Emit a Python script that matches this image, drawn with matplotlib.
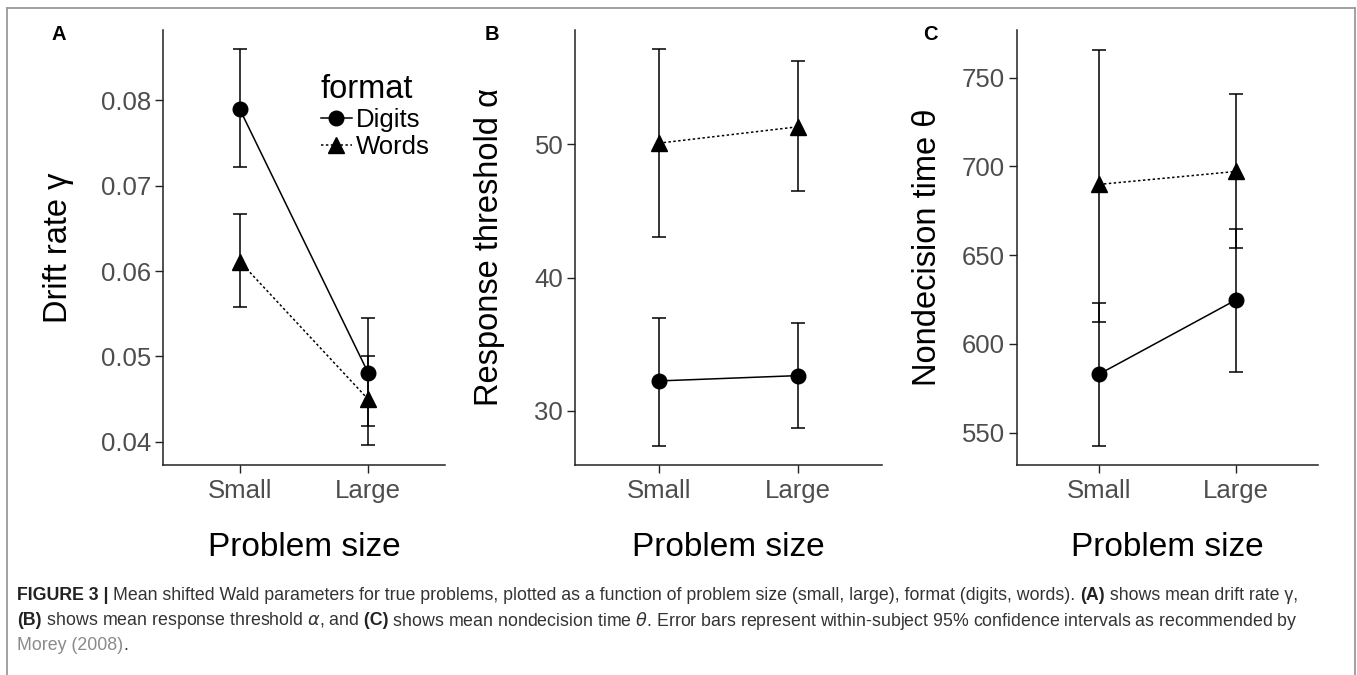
import matplotlib
matplotlib.use("Agg")
import matplotlib.pyplot as plt
from matplotlib.lines import Line2D

plt.rcParams['font.family'] = ['Liberation Sans', 'DejaVu Sans']
plt.rcParams['mathtext.fontset'] = 'dejavusans'

# ---------------- data ----------------
sizes = ["Small", "Large"]

drift_digits = [0.0789, 0.0481]
drift_digits_lo = [0.0722, 0.0419]
drift_digits_hi = [0.0860, 0.0545]
drift_words = [0.0611, 0.0450]
drift_words_lo = [0.0558, 0.0396]
drift_words_hi = [0.0667, 0.0500]

thr_digits = [32.25, 32.65]
thr_digits_lo = [27.4, 28.75]
thr_digits_hi = [37.0, 36.6]
thr_words = [50.07, 51.3]
thr_words_lo = [43.05, 46.5]
thr_words_hi = [57.1, 56.25]

ndt_digits = [583.0, 624.8]
ndt_digits_lo = [542.4, 584.4]
ndt_digits_hi = [622.9, 664.8]
ndt_words = [689.9, 697.2]
ndt_words_lo = [612.3, 654.0]
ndt_words_hi = [765.9, 740.8]

drift_ticks = [0.04, 0.05, 0.06, 0.07, 0.08]
thr_ticks = [30, 40, 50]
ndt_ticks = [550, 600, 650, 700, 750]

W, H = 1357, 675
fig = plt.figure(figsize=(W / 100, H / 100), dpi=100)

def px_axes(left, right, top, bottom):
    return fig.add_axes([left / W, 1 - bottom / H, (right - left) / W, (bottom - top) / H])

TICK_COL = '#4d4d4d'
LW = 1.1

def panel(ax, dig, dig_lo, dig_hi, wrd, wrd_lo, wrd_hi, ylim, yticks, fmt, ylabel, lab_x):
    x = [1, 2]
    for m, lo, hi in [(dig, dig_lo, dig_hi), (wrd, wrd_lo, wrd_hi)]:
        ax.errorbar(x, m, yerr=[[a - b for a, b in zip(m, lo)], [c - a for a, c in zip(m, hi)]],
                    fmt='none', ecolor='black', elinewidth=LW, capsize=4.7, capthick=LW, zorder=2)
    ax.plot(x, dig, color='black', lw=LW, ls='-', zorder=3)
    ax.plot(x, wrd, color='black', lw=LW, ls=(0, (1.6, 1.6)), zorder=3)
    ax.plot(x, dig, ls='none', marker='o', ms=10.5, color='black', zorder=4)
    ax.plot(x, wrd, ls='none', marker='^', ms=12, color='black', zorder=4)
    ax.set_xlim(0.4, 2.6)
    ax.set_ylim(*ylim)
    ax.set_xticks(x)
    ax.set_xticklabels(sizes)
    ax.set_yticks(yticks)
    ax.set_yticklabels([fmt.format(t) for t in yticks])
    for s in ['top', 'right']:
        ax.spines[s].set_visible(False)
    for s in ['left', 'bottom']:
        ax.spines[s].set_linewidth(1.1)
        ax.spines[s].set_color('#222222')
    ax.tick_params(axis='both', direction='out', length=5.5, width=1.0, color='#222222',
                   labelsize=18.5, labelcolor=TICK_COL, pad=3)
    ax.tick_params(axis='x', pad=4.5)
    ax.set_xlabel("Problem size", fontsize=24)
    ax.xaxis.set_label_coords(0.5, -0.189)
    ax.xaxis.label.set_va('center')
    ax.set_ylabel(ylabel, fontsize=23.5)
    ax.yaxis.set_label_coords(lab_x, 0.5)
    ax.yaxis.label.set_va('center')

axA = px_axes(163, 445, 30, 465)
axB = px_axes(575, 882, 30, 465)
axC = px_axes(1017, 1318, 30, 465)

panel(axA, drift_digits, drift_digits_lo, drift_digits_hi, drift_words, drift_words_lo, drift_words_hi,
      (0.0373, 0.0882), drift_ticks, "{:.2f}", "Drift rate \u03b3", -0.372)
panel(axB, thr_digits, thr_digits_lo, thr_digits_hi, thr_words, thr_words_lo, thr_words_hi,
      (25.95, 58.55), thr_ticks, "{:d}", "Response threshold \u03b1", -0.277)
panel(axC, ndt_digits, ndt_digits_lo, ndt_digits_hi, ndt_words, ndt_words_lo, ndt_words_hi,
      (531.8, 776.9), ndt_ticks, "{:d}", "Nondecision time \u03b8", -0.296)

# legend in panel A
handles = [Line2D([], [], color='black', lw=LW, ls='-', marker='o', ms=10.5),
           Line2D([], [], color='black', lw=LW, ls=(0, (1.6, 1.6)), marker='^', ms=12)]
leg = axA.legend(handles, ["Digits", "Words"], title="format", loc='upper left',
                 bbox_to_anchor=(0.56, 0.898), frameon=False, fontsize=18.5,
                 title_fontsize=23.5, handlelength=1.2, handletextpad=0.15,
                 labelspacing=0.1, borderpad=0, borderaxespad=0, alignment='left')

# panel letters
for lab, xp in [("A", 52), ("B", 485), ("C", 923)]:
    fig.text(xp / W, 1 - 35 / H, lab, fontsize=14.5, fontweight='bold', va='center', ha='left')

# frame
for xs, ys in [([7, 7], [8, H + 5]), ([1355, 1355], [8, H + 5]), ([7, 1355], [8, 8])]:
    fig.add_artist(Line2D([x / W for x in xs], [1 - y / H for y in ys], color='#9a9a9a', lw=1.3))

# caption with mixed runs
fig.canvas.draw()
renderer = fig.canvas.get_renderer()
CAP_FS = 12.8
CAP_COL = '#333333'

def runs(line, x0, y0):
    x = x0
    for txt, weight, col in line:
        t = fig.text(x / W, 1 - y0 / H, txt, fontsize=CAP_FS, fontweight=weight, color=col,
                     va='center', ha='left')
        bb = t.get_window_extent(renderer)
        x += bb.width

lines = [
    [("FIGURE 3 | ", 'bold', '#222222'),
     ("Mean shifted Wald parameters for true problems, plotted as a function of problem size (small, large), format (digits, words). ", 'normal', CAP_COL),
     ("(A)", 'bold', '#222222'), (" shows mean drift rate \u03b3,", 'normal', CAP_COL)],
    [("(B)", 'bold', '#222222'), (" shows mean response threshold $\\alpha$, and", 'normal', CAP_COL),
     (" (C)", 'bold', '#222222'),
     (" shows mean nondecision time $\\theta$. Error bars represent within-subject 95% confidence intervals as recommended by", 'normal', CAP_COL)],
    [("Morey (2008)", 'normal', '#8a8a8a'), (".", 'normal', CAP_COL)],
]
for i, ln in enumerate(lines):
    runs(ln, 17, 595 + 25.5 * i)

fig.savefig("out.png", dpi=100)
